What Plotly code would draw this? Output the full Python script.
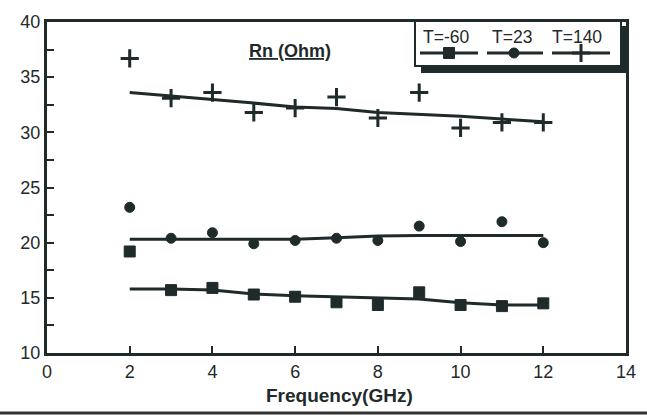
import plotly.graph_objects as go

# ---- data ----
freq = [2, 3, 4, 5, 6, 7, 8, 9, 10, 11, 12]

t_m60_pts = [19.2, 15.7, 15.9, 15.3, 15.1, 14.6, 14.35, 15.5, 14.35, 14.25, 14.5]
t_m60_fit = [15.8, 15.8, 15.7, 15.35, 15.2, 15.1, 15.0, 14.9, 14.55, 14.35, 14.35]

t_23_pts = [23.2, 20.4, 20.9, 19.9, 20.2, 20.4, 20.2, 21.5, 20.1, 21.9, 20.0]
t_23_fit = [20.3, 20.3, 20.3, 20.25, 20.3, 20.45, 20.6, 20.65, 20.65, 20.65, 20.65]

t_140_pts = [36.7, 33.1, 33.6, 31.8, 32.2, 33.2, 31.3, 33.6, 30.4, 30.9, 30.9]
t_140_fit = [33.6, 33.3, 32.95, 32.65, 32.3, 32.15, 31.8, 31.65, 31.45, 31.2, 30.95]

legend_labels = ["T=-60", "T=23", "T=140"]
x_ticks = [0, 2, 4, 6, 8, 10, 12, 14]
y_ticks = [10, 15, 20, 25, 30, 35, 40]

INK = "#1f2a2a"
FONT = "Liberation Sans, Arial, sans-serif"

fig = go.Figure()

series = [
    (t_m60_pts, t_m60_fit, "square", 11, 1),
    (t_23_pts, t_23_fit, "circle", 10, 1),
    (t_140_pts, t_140_fit, "cross-thin", 13, 3),
]
for pts, fit, sym, sz, lw in series:
    fig.add_trace(go.Scatter(x=freq, y=fit, mode="lines",
                             line=dict(color=INK, width=3), showlegend=False,
                             hoverinfo="skip"))
    fig.add_trace(go.Scatter(x=freq, y=pts, mode="markers",
                             marker=dict(symbol=sym, size=sz, color=INK,
                                         line=dict(color=INK, width=lw)),
                             showlegend=False))

# ---- hand-drawn legend box (paper coordinates) ----
def px(x):
    return (x - 47) / 579.0

def py(y):
    return (353 - y) / 331.0

shapes = [
    dict(type="rect", xref="paper", yref="paper", layer="below",
         x0=px(421), x1=px(628), y0=py(73), y1=py(26),
         fillcolor=INK, line=dict(width=0)),
    dict(type="rect", xref="paper", yref="paper", layer="below",
         x0=px(415), x1=px(621), y0=py(66), y1=py(20),
         fillcolor="white", line=dict(color=INK, width=2)),
]
seg = [(420, 478), (487, 543), (552, 610)]
for a, b in seg:
    shapes.append(dict(type="line", xref="paper", yref="paper", layer="below",
                       x0=px(a), x1=px(b), y0=py(53), y1=py(53),
                       line=dict(color=INK, width=3)))
# bottom rule of the scanned page
shapes.append(dict(type="line", xref="paper", yref="paper",
                   x0=px(0), x1=px(647), y0=py(413), y1=py(413),
                   line=dict(color="#333", width=3)))
fig.update_layout(shapes=shapes)

leg_cx = [449, 514, 581]
leg_sym = [("square", 11, 1), ("circle", 10, 1), ("cross-thin", 13, 3)]
for cx, (sym, sz, lw) in zip(leg_cx, leg_sym):
    fig.add_trace(go.Scatter(x=[px(cx)], y=[py(53)], mode="markers",
                             xaxis="x2", yaxis="y2", cliponaxis=False,
                             marker=dict(symbol=sym, size=sz, color=INK,
                                         line=dict(color=INK, width=lw)),
                             showlegend=False, hoverinfo="skip"))

def note(x, y, text, size):
    return dict(x=px(x), y=py(y), xref="paper", yref="paper",
                xanchor="center", yanchor="middle", text=text,
                showarrow=False, font=dict(family=FONT, size=size, color=INK))

annotations = [note(cx, 37, lab, 17.5)
               for cx, lab in zip([446, 512, 577], legend_labels)]
annotations.append(note(290, 51, "<b><u>Rn (Ohm)</u></b>", 18))
annotations.append(note(339, 395, "<b>Frequency(GHz)</b>", 19))

fig.update_layout(
    width=647, height=415,
    margin=dict(l=47, r=21, t=22, b=62, autoexpand=False),
    paper_bgcolor="white", plot_bgcolor="white",
    font=dict(family=FONT, size=17, color=INK),
    annotations=annotations,
    xaxis=dict(range=[0, 14], tickvals=x_ticks, ticks="inside", ticklen=7,
               tickwidth=2, tickcolor=INK, showline=True, linewidth=3,
               linecolor=INK, mirror=True, showgrid=False, zeroline=False,
               automargin=False, tickfont=dict(size=18, color=INK)),
    yaxis=dict(range=[10, 40], tickvals=y_ticks, ticks="inside", ticklen=7,
               tickwidth=2, tickcolor=INK, showline=True, linewidth=3,
               linecolor=INK, mirror=True, showgrid=False, zeroline=False,
               automargin=False, tickfont=dict(size=18, color=INK),
               minor=dict(dtick=2.5, ticks="inside", ticklen=7, tickwidth=2,
                          tickcolor=INK, showgrid=False)),
    xaxis2=dict(range=[0, 1], overlaying="x", visible=False, automargin=False),
    yaxis2=dict(range=[0, 1], overlaying="y", visible=False, automargin=False),
    showlegend=False,
)

fig.write_html("out.html", config={"displayModeBar": False},
               post_script="document.body.style.margin='0';"
                           "document.body.style.padding='0';")
